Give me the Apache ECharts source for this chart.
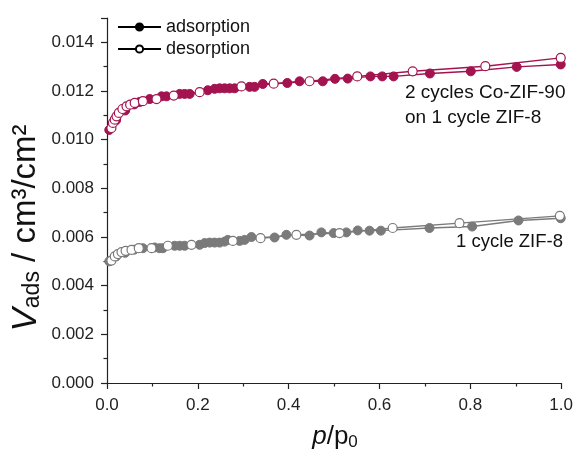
<!DOCTYPE html>
<html>
<head>
<meta charset="utf-8">
<script src="https://cdn.jsdelivr.net/npm/echarts@6/dist/echarts.min.js"></script>
<style>
  html, body { margin: 0; padding: 0; background: #fff; }
  #chart { width: 576px; height: 454px; }
</style>
</head>
<body>
<div id="chart"></div>
<script>
// [p/p0, V_ads] pairs
const coZif90Ads = [
  [0.005, 0.01040], [0.02, 0.01080], [0.04, 0.01120], [0.06, 0.01145],
  [0.072, 0.01155], [0.094, 0.01167], [0.120, 0.01178], [0.131, 0.01178],
  [0.160, 0.01188], [0.171, 0.01188], [0.182, 0.01188], [0.222, 0.01203],
  [0.237, 0.01209], [0.248, 0.01211], [0.259, 0.01211], [0.270, 0.01211],
  [0.281, 0.01211], [0.314, 0.01217], [0.325, 0.01217], [0.343, 0.01229],
  [0.397, 0.01233], [0.424, 0.01240], [0.475, 0.01240], [0.502, 0.01250],
  [0.530, 0.01251], [0.580, 0.01260], [0.606, 0.01260], [0.631, 0.01260],
  [0.711, 0.01272], [0.801, 0.01281], [0.902, 0.01299], [0.999, 0.01309]
];
const coZif90Des = [
  [0.0097, 0.01048], [0.013, 0.01069], [0.017, 0.01082], [0.021, 0.01096],
  [0.026, 0.01110], [0.034, 0.01126], [0.043, 0.01137], [0.051, 0.01144],
  [0.061, 0.01151], [0.079, 0.01158], [0.109, 0.01167], [0.147, 0.01181],
  [0.204, 0.01195], [0.296, 0.01219], [0.367, 0.01230], [0.446, 0.01240],
  [0.551, 0.01260], [0.673, 0.01281], [0.833, 0.01302], [0.999, 0.01336]
];
const zif8Ads = [
  [0.005, 0.00500], [0.02, 0.00520], [0.04, 0.00535], [0.06, 0.00548],
  [0.079, 0.00554], [0.105, 0.00557], [0.116, 0.00554], [0.123, 0.00554],
  [0.149, 0.00564], [0.160, 0.00564], [0.171, 0.00564], [0.204, 0.00568],
  [0.215, 0.00575], [0.226, 0.00577], [0.237, 0.00577], [0.248, 0.00577],
  [0.259, 0.00581], [0.266, 0.00588], [0.292, 0.00584], [0.303, 0.00588],
  [0.318, 0.00600], [0.369, 0.00598], [0.395, 0.00609], [0.446, 0.00606],
  [0.472, 0.00619], [0.499, 0.00616], [0.527, 0.00619], [0.552, 0.00627],
  [0.578, 0.00626], [0.603, 0.00626], [0.710, 0.00637], [0.804, 0.00643],
  [0.906, 0.00668], [0.999, 0.00677]
];
const zif8Des = [
  [0.0097, 0.00503], [0.017, 0.00520], [0.024, 0.00530], [0.032, 0.00538],
  [0.041, 0.00543], [0.054, 0.00547], [0.070, 0.00554], [0.098, 0.00554],
  [0.134, 0.00564], [0.186, 0.00568], [0.277, 0.00584], [0.338, 0.00595],
  [0.417, 0.00609], [0.512, 0.00616], [0.629, 0.00637], [0.776, 0.00657],
  [0.997, 0.00687]
];
const legendNames = ['adsorption', 'desorption'];

const MAGENTA = '#a3134f';
const GREY = '#7a7a7a';
const FONT = '"Liberation Sans", Arial, sans-serif';

function filled(name, data, color) {
  return {
    name, type: 'line', data, symbol: 'circle', symbolSize: 9,
    lineStyle: { color, width: 1.4 },
    itemStyle: { color, borderColor: color, borderWidth: 1 },
    emphasis: { disabled: true }, animation: false
  };
}
function open(name, data, color) {
  return {
    name, type: 'line', data, symbol: 'circle', symbolSize: 9,
    lineStyle: { color, width: 1.4 },
    itemStyle: { color: '#fff', borderColor: color, borderWidth: 1.2 },
    emphasis: { disabled: true }, animation: false
  };
}

const chart = echarts.init(document.getElementById('chart'));
chart.setOption({
  animation: false,
  backgroundColor: '#fff',
  textStyle: { fontFamily: FONT },
  grid: { left: 107, right: 14, top: 18, bottom: 71 },
  legend: {
    data: legendNames,
    orient: 'vertical',
    left: 112, top: 13,
    itemWidth: 43, itemHeight: 9, itemGap: 4,
    textStyle: { fontSize: 18, color: '#111', fontFamily: FONT }
  },
  xAxis: {
    type: 'value', min: 0, max: 1, interval: 0.2,
    axisLine: { show: true, lineStyle: { color: '#222', width: 1.2 } },
    axisTick: { show: true, length: 6, lineStyle: { color: '#222', width: 1.2 } },
    minorTick: { show: true, splitNumber: 2, length: 3.5, lineStyle: { color: '#222', width: 1.2 } },
    splitLine: { show: false },
    axisLabel: { fontSize: 17, color: '#222', margin: 14, formatter: v => v.toFixed(1) }
  },
  yAxis: {
    type: 'value', min: 0, max: 0.015, interval: 0.002,
    axisLine: { show: true, lineStyle: { color: '#222', width: 1.2 } },
    axisTick: { show: true, length: 6, lineStyle: { color: '#222', width: 1.2 } },
    minorTick: { show: true, splitNumber: 2, length: 3.5, lineStyle: { color: '#222', width: 1.2 } },
    splitLine: { show: false },
    axisLabel: { fontSize: 17, color: '#222', margin: 13, showMaxLabel: false,
      formatter: v => v.toFixed(3) }
  },
  graphic: [
    {
      type: 'text', x: 26, y: 228, rotation: Math.PI / 2,
      style: {
        text: '{v|V}{s|ads}{u| / cm³/cm²}',
        align: 'center', verticalAlign: 'middle',
        rich: {
          v: { fontSize: 35, fontStyle: 'italic', fontFamily: FONT, fill: '#111' },
          s: { fontSize: 23, fontFamily: FONT, fill: '#111', verticalAlign: 'bottom', padding: [14, 0, 0, 0] },
          u: { fontSize: 33, fontFamily: FONT, fill: '#111' }
        }
      }
    },
    {
      type: 'text', x: 335, y: 437,
      style: {
        text: '{p|p}{n|/p}{s|0}',
        align: 'center', verticalAlign: 'middle',
        rich: {
          p: { fontSize: 26, fontStyle: 'italic', fontFamily: FONT, fill: '#111' },
          n: { fontSize: 26, fontFamily: FONT, fill: '#111' },
          s: { fontSize: 17, fontFamily: FONT, fill: '#111', verticalAlign: 'bottom', padding: [11, 0, 0, 0] }
        }
      }
    },
    {
      type: 'text', left: 405, top: 80,
      style: { text: '2 cycles Co-ZIF-90\non 1 cycle ZIF-8', fontSize: 19, lineHeight: 25, fontFamily: FONT, fill: '#111' }
    },
    {
      type: 'text', right: 13, top: 232,
      style: { text: '1 cycle ZIF-8', fontSize: 18.5, fontFamily: FONT, fill: '#111' }
    }
  ],
  series: [
    filled('adsorption', [], '#000'),
    open('desorption', [], '#000'),
    filled('Co-ZIF-90 ads', coZif90Ads, MAGENTA),
    open('Co-ZIF-90 des', coZif90Des, MAGENTA),
    filled('ZIF-8 ads', zif8Ads, GREY),
    open('ZIF-8 des', zif8Des, GREY)
  ]
});
</script>
</body>
</html>
